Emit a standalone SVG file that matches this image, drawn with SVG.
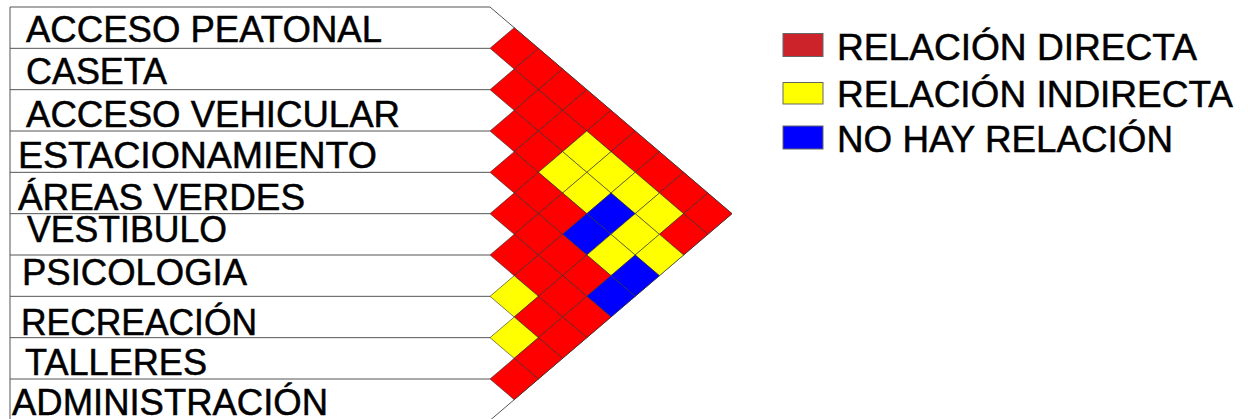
<svg xmlns="http://www.w3.org/2000/svg" xmlns:xlink="http://www.w3.org/1999/xlink" width="1248" height="419" viewBox="0 0 1248 419">
<style>
.bg{fill:#ffffff}
.ln{stroke:#555555;stroke-width:1;fill:none}
.lb{font-family:"Liberation Sans",Arial,sans-serif;font-size:37px;fill:#000000;stroke:#000000;stroke-width:0.5}
.r{fill:#ff0000}
.y{fill:#ffff00}
.b{fill:#0000ff}
.cell{stroke:#2a2a2a;stroke-width:0.8;stroke-opacity:0.75}
.lg{stroke:#666666;stroke-width:1}
</style>
<defs>
<polygon id="dm" points="-24.2,0 0,-20.667 24.2,0 0,20.667"/>
</defs>
<rect class="bg" x="0" y="0" width="1248" height="419"/>
<g id="connectors">
<polyline class="ln" points="10,419 10,7 490,7 732,213.67 490,420.33"/>
<line class="ln" x1="10" y1="48.33" x2="490" y2="48.33"/>
<line class="ln" x1="10" y1="89.67" x2="490" y2="89.67"/>
<line class="ln" x1="10" y1="131" x2="490" y2="131"/>
<line class="ln" x1="10" y1="172.33" x2="490" y2="172.33"/>
<line class="ln" x1="10" y1="213.67" x2="490" y2="213.67"/>
<line class="ln" x1="10" y1="255" x2="490" y2="255"/>
<line class="ln" x1="10" y1="296.33" x2="490" y2="296.33"/>
<line class="ln" x1="10" y1="337.67" x2="490" y2="337.67"/>
<line class="ln" x1="10" y1="379" x2="490" y2="379"/>
</g>
<g id="matrix" class="cell">
<use href="#dm" x="514.2" y="48.33" class="r"/>
<use href="#dm" x="538.4" y="69" class="r"/>
<use href="#dm" x="562.6" y="89.67" class="r"/>
<use href="#dm" x="586.8" y="110.33" class="r"/>
<use href="#dm" x="611" y="131" class="r"/>
<use href="#dm" x="635.2" y="151.67" class="r"/>
<use href="#dm" x="659.4" y="172.33" class="r"/>
<use href="#dm" x="683.6" y="193" class="r"/>
<use href="#dm" x="707.8" y="213.67" class="r"/>
<use href="#dm" x="514.2" y="89.67" class="r"/>
<use href="#dm" x="538.4" y="110.33" class="r"/>
<use href="#dm" x="562.6" y="131" class="r"/>
<use href="#dm" x="586.8" y="151.67" class="y"/>
<use href="#dm" x="611" y="172.33" class="y"/>
<use href="#dm" x="635.2" y="193" class="y"/>
<use href="#dm" x="659.4" y="213.67" class="y"/>
<use href="#dm" x="683.6" y="234.33" class="r"/>
<use href="#dm" x="514.2" y="131" class="r"/>
<use href="#dm" x="538.4" y="151.67" class="r"/>
<use href="#dm" x="562.6" y="172.33" class="y"/>
<use href="#dm" x="586.8" y="193" class="y"/>
<use href="#dm" x="611" y="213.67" class="b"/>
<use href="#dm" x="635.2" y="234.33" class="y"/>
<use href="#dm" x="659.4" y="255" class="y"/>
<use href="#dm" x="514.2" y="172.33" class="r"/>
<use href="#dm" x="538.4" y="193" class="r"/>
<use href="#dm" x="562.6" y="213.67" class="r"/>
<use href="#dm" x="586.8" y="234.33" class="b"/>
<use href="#dm" x="611" y="255" class="y"/>
<use href="#dm" x="635.2" y="275.67" class="b"/>
<use href="#dm" x="514.2" y="213.67" class="r"/>
<use href="#dm" x="538.4" y="234.33" class="r"/>
<use href="#dm" x="562.6" y="255" class="r"/>
<use href="#dm" x="586.8" y="275.67" class="r"/>
<use href="#dm" x="611" y="296.33" class="b"/>
<use href="#dm" x="514.2" y="255" class="r"/>
<use href="#dm" x="538.4" y="275.67" class="r"/>
<use href="#dm" x="562.6" y="296.33" class="r"/>
<use href="#dm" x="586.8" y="317" class="r"/>
<use href="#dm" x="514.2" y="296.33" class="y"/>
<use href="#dm" x="538.4" y="317" class="r"/>
<use href="#dm" x="562.6" y="337.67" class="r"/>
<use href="#dm" x="514.2" y="337.67" class="y"/>
<use href="#dm" x="538.4" y="358.33" class="r"/>
<use href="#dm" x="514.2" y="379" class="r"/>
</g>
<g id="n-acceso-peatonal"><text class="lb" x="26" y="42" textLength="356" lengthAdjust="spacingAndGlyphs">ACCESO PEATONAL</text></g>
<g id="n-caseta"><text class="lb" x="26" y="84" textLength="141" lengthAdjust="spacingAndGlyphs">CASETA</text></g>
<g id="n-acceso-vehicular"><text class="lb" x="26" y="127" textLength="374" lengthAdjust="spacingAndGlyphs">ACCESO VEHICULAR</text></g>
<g id="n-estacionamiento"><text class="lb" x="18" y="168" textLength="359" lengthAdjust="spacingAndGlyphs">ESTACIONAMIENTO</text></g>
<g id="n-areas-verdes"><text class="lb" x="18" y="210" textLength="287" lengthAdjust="spacingAndGlyphs">ÁREAS VERDES</text></g>
<g id="n-vestibulo"><text class="lb" x="27" y="242" textLength="200" lengthAdjust="spacingAndGlyphs">VESTIBULO</text></g>
<g id="n-psicologia"><text class="lb" x="22" y="285" textLength="225" lengthAdjust="spacingAndGlyphs">PSICOLOGIA</text></g>
<g id="n-recreacion"><text class="lb" x="21" y="335" textLength="236" lengthAdjust="spacingAndGlyphs">RECREACIÓN</text></g>
<g id="n-talleres"><text class="lb" x="25" y="375" textLength="182" lengthAdjust="spacingAndGlyphs">TALLERES</text></g>
<g id="n-administracion"><text class="lb" x="12" y="414.5" textLength="316" lengthAdjust="spacingAndGlyphs">ADMINISTRACIÓN</text></g>
<g id="legend-directa"><rect class="lg" x="783" y="33.5" width="40" height="23" fill="#cc2229"/><text class="lb" x="837" y="59.5" textLength="360" lengthAdjust="spacingAndGlyphs">RELACIÓN DIRECTA</text></g>
<g id="legend-indirecta"><rect class="lg" x="783" y="82.5" width="40" height="21.5" fill="#ffff00"/><text class="lb" x="837" y="107" textLength="396" lengthAdjust="spacingAndGlyphs">RELACIÓN INDIRECTA</text></g>
<g id="legend-no"><rect class="lg" x="783" y="126" width="40" height="23" fill="#0000ff"/><text class="lb" x="837" y="152" textLength="336" lengthAdjust="spacingAndGlyphs">NO HAY RELACIÓN</text></g>
</svg>
